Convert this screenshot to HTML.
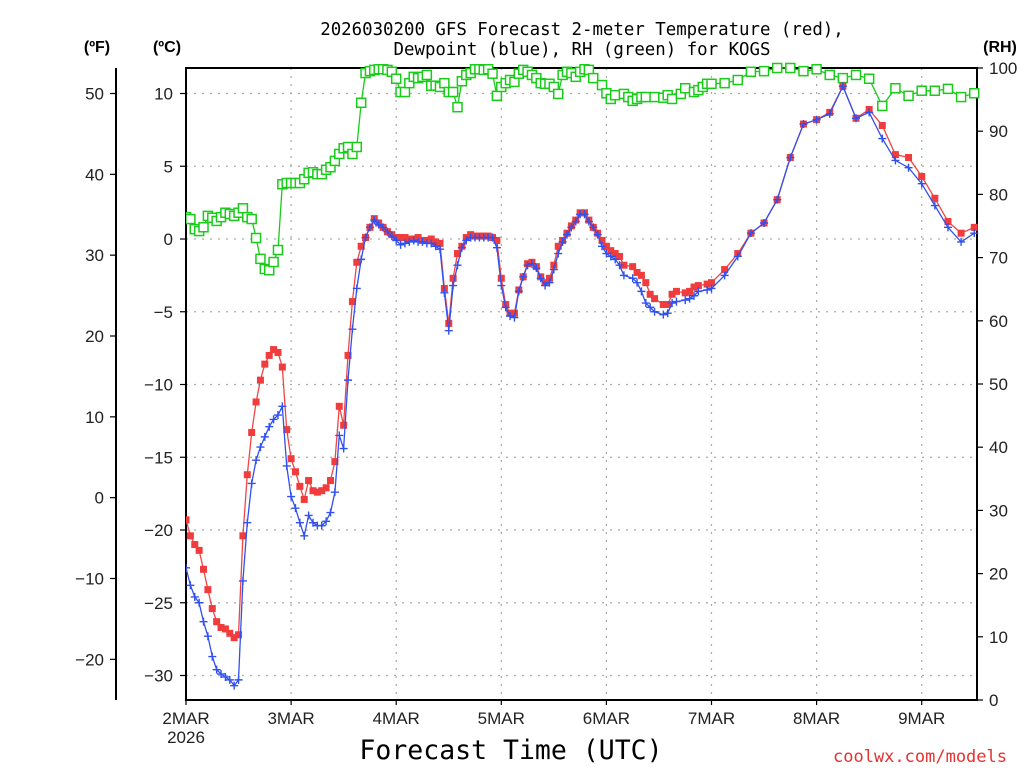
<!DOCTYPE html>
<html><head><meta charset="utf-8"><style>
html,body{margin:0;padding:0;background:#fff;}
svg{display:block;}
text{font-family:"Liberation Sans",sans-serif;}
.mono{font-family:"DejaVu Sans Mono","Liberation Mono",monospace;}
</style></head><body>
<svg id="chart" width="1024" height="768" viewBox="0 0 1024 768">
<g id="grid"></g>
<g id="axes"></g>
<g id="series"></g>
<text class="mono" x="582" y="35" font-size="17.4" text-anchor="middle" fill="#000">2026030200 GFS Forecast 2-meter Temperature (red),</text>
<text class="mono" x="582" y="55" font-size="17.4" text-anchor="middle" fill="#000">Dewpoint (blue), RH (green) for KOGS</text>
<text x="97" y="52" font-size="16" font-weight="bold" text-anchor="middle">(ºF)</text>
<text x="167" y="52" font-size="16" font-weight="bold" text-anchor="middle">(ºC)</text>
<text x="1000" y="52" font-size="16" font-weight="bold" text-anchor="middle">(RH)</text>
<text class="mono" x="511" y="759" font-size="26.5" text-anchor="middle" fill="#000">Forecast Time (UTC)</text>
<text class="mono" x="920" y="762" font-size="17" text-anchor="middle" fill="#e83030">coolwx.com/models</text>
</svg>
<script>
// ---- data ----
const dayLabels = ["2MAR","3MAR","4MAR","5MAR","6MAR","7MAR","8MAR","9MAR"];
const cTicks = [10,5,0,-5,-10,-15,-20,-25,-30];
const fTicks = [50,40,30,20,10,0,-10,-20];
const rhTicks = [100,90,80,70,60,50,40,30,20,10,0];
const tHours = [0,1,2,3,4,5,6,7,8,9,10,11,12,13,14,15,16,17,18,19,20,21,22,23,24,25,26,27,28,29,30,31,32,33,34,35,36,37,
38,39,40,41,42,43,44,45,46,47,48,49,50,51,52,53,54,55,56,57,58,59,60,61,62,63,64,65,66,67,68,69,70,71,72,73,74,75,76,77,78,79,80,81,82,83,84,85,86,87,88,89,90,91,92,93,94,95,96,97,98,99,100,
102,103,104,105,106,107,109,110,111,112,114,115,116,117,119,120,
123,126,129,132,135,138,141,144,147,150,153,156,159,162,165,168,171,174,177,180];
const tempC = [-19.3,-20.4,-21.0,-21.4,-22.7,-24.1,-25.4,-26.3,-26.7,-26.8,-27.1,-27.4,-27.2,-20.4,-16.2,-13.3,-11.2,-9.7,-8.6,-8.0,-7.6,-7.8,-8.8,-13.1,-15.1,-16.0,-17.0,-17.9,-16.6,-17.3,-17.4,-17.3,-17.1,-16.6,-15.3,-11.5,-12.8,-8.0,
-4.3,-1.6,-0.5,0.1,0.8,1.4,1.1,0.8,0.5,0.3,0.1,0.1,0.1,0,0,0.1,-0.1,-0.1,0,-0.2,-0.3,-3.4,-5.8,-2.7,-1.0,-0.5,0.1,0.3,0.2,0.2,0.2,0.2,0.1,-0.1,-2.7,-4.5,-5.1,-5.1,-3.5,-2.6,-1.7,-1.6,-1.9,-2.6,-3.0,-2.7,-1.8,-0.5,-0.1,0.4,0.9,1.3,1.8,1.8,1.3,0.8,0.4,-0.1,-0.5,-0.8,-1.0,-1.2,-1.8,
-1.9,-2.3,-2.5,-3.0,-3.8,-4.1,-4.5,-4.5,-3.8,-3.6,-3.7,-3.6,-3.3,-3.2,-3.1,-3.0,
-2.1,-1.0,0.4,1.1,2.7,5.6,7.9,8.2,8.7,10.5,8.3,8.9,7.8,5.8,5.6,4.3,2.8,1.2,0.4,0.8];
const dewC = [-22.6,-23.8,-24.6,-25.0,-26.3,-27.3,-28.7,-29.6,-29.9,-30.1,-30.3,-30.7,-30.3,-23.5,-19.5,-16.8,-15.2,-14.3,-13.6,-12.9,-12.4,-12.1,-11.5,-15.6,-17.7,-18.5,-19.5,-20.4,-19.0,-19.5,-19.7,-19.7,-19.4,-18.8,-17.4,-13.5,-14.4,-9.7,
-6.2,-3.4,-1.4,0.1,0.8,1.3,1.0,0.8,0.5,0.2,-0.1,-0.4,-0.3,-0.2,-0.1,-0.2,-0.2,-0.3,-0.3,-0.5,-0.7,-3.7,-6.3,-3.2,-1.8,-0.6,-0.1,0.1,0.1,0.1,0.1,0.1,0.1,-0.6,-3.2,-4.7,-5.3,-5.4,-3.6,-2.6,-1.8,-1.7,-2.0,-2.7,-3.2,-3.0,-2.1,-1.0,-0.2,0.3,0.8,1.2,1.7,1.7,1.2,0.8,0.3,-0.5,-1.0,-1.2,-1.4,-1.8,-2.5,
-2.7,-3.0,-3.6,-4.4,-4.7,-5.0,-5.2,-5.1,-4.4,-4.3,-4.2,-4.1,-3.9,-3.6,-3.5,-3.4,
-2.5,-1.2,0.4,1.1,2.7,5.6,7.9,8.2,8.6,10.5,8.3,8.7,6.9,5.4,4.9,3.8,2.3,0.8,-0.2,0.4];
const rhHours = [0,1,2,3,4,5,6,7,8,9,10,11,12,13,14,15,16,17,18,19,20,21,22,23,24,25,26,27,28,29,30,31,32,33,34,35,36,37,38,39,40,41,42,43,44,45,46,47,48,49,50,51,52,53,54,55,56,57,58,59,60,61,62,63,64,65,66,67,68,69,70,71,72,73,74,75,76,77,78,79,80,81,82,83,84,85,86,87,88,89,90,91,92,93,
95,96,97,98,100,101,102,103,104,105,107,109,110,111,113,114,116,117,118,119,120,
123,126,129,132,135,138,141,144,147,150,153,156,159,162,165,168,171,174,177,180];
const rhVals = [76.4,76.1,74.5,74.2,74.8,76.6,76.3,75.8,76.4,77.1,76.9,76.6,77.1,77.8,76.4,76.1,73.1,69.8,68.2,68.0,
69.3,71.2,81.6,81.8,81.8,81.8,81.8,82.4,83.4,83.5,83.2,83.2,83.9,84.3,85.3,86.4,87.3,87.5,86.4,87.5,
94.5,99.2,99.5,99.7,99.8,99.8,99.7,99.4,98.3,96.2,96.2,97.6,98.6,98.4,98.6,98.9,97.2,97.2,97.0,97.6,
96.2,96.2,93.8,97.9,98.9,99.2,99.8,99.8,99.7,99.8,99.1,95.6,97.0,97.6,98.1,97.8,99.1,99.7,99.4,98.9,
98.4,97.6,97.5,97.5,97.0,95.9,98.9,99.4,99.2,98.6,99.4,99.8,99.7,98.4,
97.3,96.0,95.1,95.7,95.9,95.4,94.8,95.1,95.4,95.4,95.4,95.3,95.7,95.1,95.9,96.8,96.2,96.5,97.0,97.5,97.5,
97.6,98.1,99.4,99.5,100,100,99.5,99.8,98.9,98.4,98.9,98.3,94.0,96.8,95.6,96.4,96.4,96.7,95.4,96.0];

// ---- scales ----
const X0=186,X1=977,Y0=68,Y1=700;
const xH = h => X0 + h*105.1/24;
const yC = c => 239 - c*14.55;
const yF = f => yC((f-32)*5/9);
const yRH = r => Y1 - r*(Y1-Y0)/100;
const NS="http://www.w3.org/2000/svg";
function mk(tag, parent, attrs){const e=document.createElementNS(NS,tag);for(const k in attrs)e.setAttribute(k,attrs[k]);parent.appendChild(e);return e;}
const grid=document.getElementById('grid'), axes=document.getElementById('axes'), series=document.getElementById('series');

// grid
cTicks.forEach(c=>{const y=yC(c);
  const l=mk('line',grid,{x1:X0,x2:X1,y1:y,y2:y,stroke:'#aaa','stroke-width':1.2,'stroke-dasharray':'2,6'});
  
  
});
dayLabels.forEach((d,i)=>{ if(i===0) return; const x=xH(i*24);
  const l=mk('line',grid,{x1:x,x2:x,y1:Y0,y2:Y1,stroke:'#aaa','stroke-width':1.2,'stroke-dasharray':'2,6'});
  
  
});

// frame
const fr=mk('rect',axes,{x:X0,y:Y0,width:X1-X0,height:Y1-Y0,fill:'none',stroke:'#000','stroke-width':2});


const fl=mk('line',axes,{x1:116,x2:116,y1:Y0,y2:Y1,stroke:'#000','stroke-width':2});



cTicks.forEach(c=>{const y=yC(c);
  mk('line',axes,{x1:180,x2:X0,y1:y,y2:y,stroke:'#000','stroke-width':1.2});
  const t=mk('text',axes,{x:173,y:y+6,'font-size':17,'text-anchor':'end',fill:'#222'});
  t.textContent=(c<0?'\u2212':'')+Math.abs(c);
  
  
});
fTicks.forEach(f=>{const y=yF(f);
  mk('line',axes,{x1:110,x2:116,y1:y,y2:y,stroke:'#000','stroke-width':1.2});
  const t=mk('text',axes,{x:104,y:y+6,'font-size':17,'text-anchor':'end',fill:'#222'});
  t.textContent=(f<0?'\u2212':'')+Math.abs(f);
  
  
});
rhTicks.forEach(r=>{const y=yRH(r);
  mk('line',axes,{x1:X1,x2:X1+6,y1:y,y2:y,stroke:'#000','stroke-width':1.2});
  const t=mk('text',axes,{x:989,y:y+6,'font-size':17,'text-anchor':'start',fill:'#222'});
  t.textContent=r;
  
  
});
dayLabels.forEach((d,i)=>{const x=xH(i*24);
  mk('line',axes,{x1:x,x2:x,y1:Y1,y2:Y1+5,stroke:'#000','stroke-width':1.2});
  const t=mk('text',axes,{x:x,y:724,'font-size':17,'text-anchor':'middle',fill:'#222'});
  t.textContent=d;
  
  
});
const yr=mk('text',axes,{x:xH(0),y:743,'font-size':17,'text-anchor':'middle',fill:'#222'});
yr.textContent='2026';



// series
function path(hours, vals, yf){return hours.map((h,i)=>(i?'L':'M')+xH(h).toFixed(1)+','+yf(vals[i]).toFixed(1)).join(' ');}
const clip=mk('clipPath',series,{id:'pc'}); mk('rect',clip,{x:X0,y:Y0-6,width:X1-X0+6,height:Y1-Y0+6});
const g=mk('g',series,{'clip-path':'url(#pc)'});

const rhLine=mk('path',g,{d:path(rhHours,rhVals,yRH),fill:'none',stroke:'#19cc19','stroke-width':1.3});


rhHours.forEach((h,i)=>{
  const r=mk('rect',g,{x:xH(h)-4.5,y:yRH(rhVals[i])-4.5,width:9,height:9,fill:'#fff',stroke:'#19cc19','stroke-width':1.5});
  
  
});
const tLine=mk('path',g,{d:path(tHours,tempC,yC),fill:'none',stroke:'#f04545','stroke-width':1.3});


tHours.forEach((h,i)=>{
  const r=mk('rect',g,{x:xH(h)-3.5,y:yC(tempC[i])-3.5,width:7,height:7,fill:'#f03c3c'});
  
  
});
const dLine=mk('path',g,{d:path(tHours,dewC,yC),fill:'none',stroke:'#3050f0','stroke-width':1.3});


tHours.forEach((h,i)=>{
  const x=xH(h), y=yC(dewC[i]);
  const p=mk('path',g,{d:`M${x-4},${y}H${x+4}M${x},${y-4}V${y+4}`,stroke:'#3050f0','stroke-width':1.4,fill:'none'});
  
  
});
</script>
</body></html>
